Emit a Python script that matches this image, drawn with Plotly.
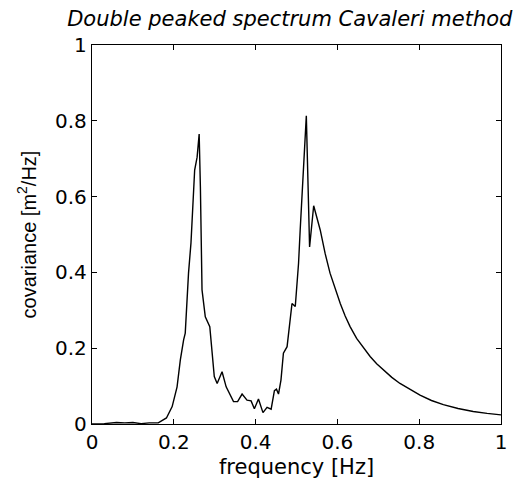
import plotly.graph_objects as go

freq = [0.0, 0.03, 0.06, 0.08, 0.10, 0.12, 0.14, 0.155, 0.162, 0.182, 0.196, 0.208, 0.216,
        0.224, 0.228, 0.236, 0.242, 0.251, 0.257, 0.262, 0.265, 0.269, 0.277, 0.288,
        0.292, 0.299, 0.306, 0.318, 0.328, 0.346, 0.356, 0.367, 0.379, 0.389, 0.397,
        0.407, 0.418, 0.428, 0.438, 0.446, 0.451, 0.456, 0.462, 0.468, 0.477, 0.483,
        0.489, 0.497, 0.505, 0.509, 0.524, 0.532, 0.542, 0.558, 0.570, 0.582, 0.595,
        0.607, 0.619, 0.631, 0.647, 0.664, 0.680, 0.696, 0.713, 0.733, 0.753, 0.778,
        0.802, 0.830, 0.859, 0.895, 0.932, 0.966, 1.0]
covariance = [0.0, 0.001, 0.004, 0.003, 0.004, 0.001, 0.003, 0.002, 0.003, 0.016, 0.046,
              0.098, 0.169, 0.222, 0.240, 0.398, 0.478, 0.670, 0.704, 0.765, 0.626, 0.354,
              0.283, 0.257, 0.204, 0.125, 0.107, 0.138, 0.098, 0.059, 0.059, 0.079, 0.063,
              0.061, 0.040, 0.066, 0.030, 0.044, 0.039, 0.088, 0.092, 0.079, 0.116, 0.187,
              0.204, 0.266, 0.318, 0.310, 0.424, 0.512, 0.813, 0.467, 0.576, 0.512, 0.450,
              0.398, 0.354, 0.318, 0.285, 0.257, 0.226, 0.200, 0.178, 0.159, 0.142, 0.123,
              0.107, 0.090, 0.076, 0.062, 0.051, 0.041, 0.033, 0.028, 0.024]

tick_vals = [0, 0.2, 0.4, 0.6, 0.8, 1]
tick_text = ["0", "0.2", "0.4", "0.6", "0.8", "1"]

WIDE = "DejaVu Sans, Liberation Sans, Arial"
NARROW = "Liberation Sans, Arial"

fig = go.Figure()
fig.add_trace(go.Scatter(x=freq, y=covariance, mode="lines",
                         line=dict(color="black", width=1.4), showlegend=False))

axis_common = dict(
    range=[0, 1], tickvals=tick_vals, ticktext=tick_text,
    ticks="inside", ticklen=5, tickcolor="black", mirror="allticks",
    showline=True, linecolor="black", linewidth=1.3, showgrid=False, zeroline=False,
    automargin=False,
    tickfont=dict(family=WIDE, size=20, color="black"),
)

# page body has an 8px default margin, so the figure is sized 518x485
fig.update_layout(
    width=518, height=485,
    margin=dict(l=84, r=25, t=37, b=69),
    paper_bgcolor="white", plot_bgcolor="white",
    font=dict(family=WIDE, color="black"),
    xaxis=dict(axis_common, title=dict(text="frequency [Hz]",
               font=dict(size=21, family=WIDE), standoff=6)),
    yaxis=dict(axis_common, title=dict(text="covariance [m<sup>2</sup>/Hz]",
               font=dict(size=20, family=NARROW), standoff=13)),
    title=dict(text="<i>Double peaked spectrum Cavaleri method</i>",
               font=dict(size=21, family=WIDE, color="black"),
               x=0.544, xanchor="center", y=1 - 3 / 485, yanchor="top",
               xref="container", yref="container"),
)

fig.write_html("out.html")
